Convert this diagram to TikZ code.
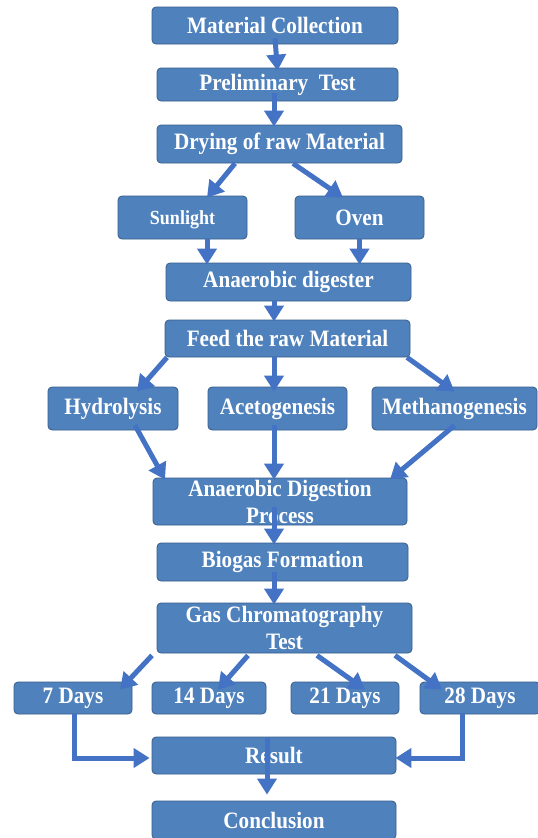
\documentclass[tikz,border=0pt]{standalone}
\usepackage{fontspec}
\setmainfont{Liberation Serif}[FakeStretch=0.9]
\usetikzlibrary{positioning, arrows.meta}

\definecolor{boxfill}{RGB}{79,129,189}
\definecolor{boxline}{RGB}{56,93,138}
\definecolor{arrblue}{RGB}{68,114,196}

\begin{document}
\begin{tikzpicture}[
  x=1pt, y=-1pt,
  box/.style={draw=boxline, fill=boxfill, line width=0.8pt, rounded corners=4pt,
              inner sep=0pt, align=center, text=white,
              font=\fontsize{23.5}{27}\selectfont\bfseries},
  small/.style={font=\fontsize{20}{24}\selectfont\bfseries, text depth=0pt},
  arr/.style={-{Triangle[width=19pt, length=16pt]}, line width=5pt, color=arrblue},
]

% Canvas
\path[use as bounding box, fill=white] (0,0) rectangle (538,838);

% Preparation
\node[box, minimum width=246pt, minimum height=37pt] (mat) at (275,25.5) {Material Collection};
\node[box, minimum width=241pt, minimum height=33pt] (pre) at (277.5,84.5) {Preliminary\ \ Test};
\node[box, minimum width=245pt, minimum height=38pt] (dry) at (279.5,144) {Drying of raw Material};

% Drying methods
\node[box, small, minimum width=129pt, minimum height=43pt] (sun) at (182.5,217.5) {Sunlight};
\node[box, minimum width=129pt, minimum height=43pt] (oven) at (359.5,217.5) {Oven};

% Digester
\node[box, minimum width=245pt, minimum height=38pt] (dig) at (288.5,282) {Anaerobic digester};
\node[box, minimum width=245pt, minimum height=37pt] (feed) at (287.5,338.5) {Feed the raw Material};

% Stages
\node[box, minimum width=130pt, minimum height=43pt] (hyd) at (113,408.5) {Hydrolysis};
\node[box, minimum width=139pt, minimum height=43pt] (ace) at (277.5,408.5) {Acetogenesis};
\node[box, minimum width=165pt, minimum height=43pt] (met) at (454.5,408.5) {Methanogenesis};

% Process and gas
\node[box, minimum width=254pt, minimum height=47pt] (adp) at (280,501.5) {Anaerobic Digestion\\Process};
\node[box, minimum width=251pt, minimum height=38pt] (bio) at (282.5,562) {Biogas Formation};
\node[box, minimum width=255pt, minimum height=50pt] (gc) at (284.5,628) {Gas Chromatography\\Test};

% Sampling days
\node[box, minimum width=118pt, minimum height=32pt] (d7) at (73,698) {7 Days};
\node[box, minimum width=114pt, minimum height=32pt] (d14) at (209,698) {14 Days};
\node[box, minimum width=108pt, minimum height=32pt] (d21) at (345,698) {21 Days};
\node[box, minimum width=120pt, minimum height=32pt] (d28) at (480,698) {28 Days};

% End
\node[box, minimum width=244pt, minimum height=37pt] (res) at (274,755.5) {Result};
\node[box, minimum width=244pt, minimum height=38pt] (con) at (274,820) {Conclusion};

% Arrows
\draw[arr] ([yshift=6pt]mat.south) -- ([yshift=-3pt]pre.north);
\draw[arr] ([xshift=-3.5pt,yshift=8pt]pre.south) -- ([xshift=-5.5pt,yshift=-2pt]dry.north);
\draw[arr] ([xshift=-44.5pt]dry.south) -- ([xshift=24.5pt,yshift=-2pt]sun.north);
\draw[arr] ([xshift=13.5pt]dry.south) -- ([xshift=-16.5pt,yshift=-2pt]oven.north);
\draw[arr] ([xshift=24.5pt]sun.south) -- ([xshift=-81.5pt,yshift=-2pt]dig.north);
\draw[arr] (oven.south) -- ([xshift=71pt,yshift=-2pt]dig.north);
\draw[arr] ([xshift=-14.5pt]dig.south) -- ([xshift=-13.5pt,yshift=-2pt]feed.north);
\draw[arr] ([xshift=-120.5pt]feed.south) -- ([xshift=24pt,yshift=-5pt]hyd.north);
\draw[arr] ([xshift=-13.5pt]feed.south) -- ([xshift=-3.5pt,yshift=-5pt]ace.north);
\draw[arr] ([xshift=119.5pt]feed.south) -- ([yshift=-5pt]met.north);
\draw[arr] ([xshift=22pt,yshift=5pt]hyd.south) -- ([xshift=-115pt,yshift=-2pt]adp.north);
\draw[arr] ([xshift=-3.5pt,yshift=5pt]ace.south) -- ([xshift=-6pt,yshift=-2pt]adp.north);
\draw[arr] ([yshift=5pt]met.south) -- ([xshift=110pt,yshift=-2pt]adp.north);
\draw[arr] ([xshift=-6pt,yshift=18pt]adp.south) -- ([xshift=-8.5pt,yshift=-2pt]bio.north);
\draw[arr] ([xshift=-8.5pt,yshift=9pt]bio.south) -- ([xshift=-10.5pt,yshift=-2pt]gc.north);
\draw[arr] ([xshift=-132.5pt,yshift=-2pt]gc.south) -- ([xshift=47pt,yshift=-8pt]d7.north);
\draw[arr] ([xshift=-36.5pt,yshift=-2pt]gc.south) -- ([xshift=9pt,yshift=-8pt]d14.north);
\draw[arr] ([xshift=32.5pt,yshift=-2pt]gc.south) -- ([xshift=20pt,yshift=-8pt]d21.north);
\draw[arr] ([xshift=110.5pt,yshift=-2pt]gc.south) -- ([xshift=-38pt,yshift=-8pt]d28.north);
\draw[arr] ([xshift=1pt]d7.south) |- ([xshift=-2pt,yshift=-2.5pt]res.west);
\draw[arr] ([xshift=-18pt]d28.south) |- ([xshift=-1pt,yshift=-2.5pt]res.east);
\draw[arr] ([xshift=-7pt,yshift=-1pt]res.north) -- ([xshift=-7pt,yshift=6pt]con.north);

\end{tikzpicture}
\end{document}
